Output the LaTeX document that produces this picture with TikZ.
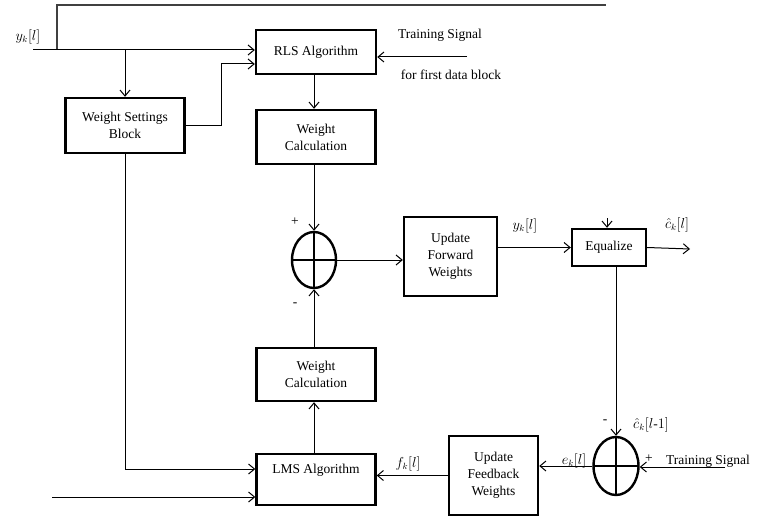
\documentclass[tikz,border=0pt]{standalone}
\usepackage{fontspec}
\setmainfont{Liberation Serif}
\usetikzlibrary{arrows.meta,shapes.geometric,calc}
\begin{document}
\begin{tikzpicture}[x=1pt,y=-1pt,
  blk/.style={draw,line width=2.4pt,inner sep=0pt,align=center,
    font=\fontsize{13.5}{17}\selectfont},
  sumnode/.style={draw,ellipse,line width=2.4pt,minimum width=44pt,
    minimum height=56pt,inner sep=0pt,
    path picture={\draw[line width=2.4pt]
      (path picture bounding box.north) -- (path picture bounding box.south)
      (path picture bounding box.west) -- (path picture bounding box.east);}},
  wire/.style={line width=1pt},
  arr/.style={wire,-{Straight Barb[length=6pt,width=10pt]}},
  topwire/.style={line width=1.8pt,black!75},
  lbl/.style={font=\fontsize{13.5}{16}\selectfont,inner sep=0pt}]
\useasboundingbox (0,0) rectangle (774,516);

% blocks
\node[blk,minimum width=120pt,minimum height=44pt] (rls) at (316,52) {RLS Algorithm};
\node[blk,minimum width=119pt,minimum height=54pt] (wc1) at (316,137) {Weight\\Calculation};
\node[blk,minimum width=119pt,minimum height=55pt] (wsb) at (125,125.5) {Weight Settings\\Block};
\node[blk,minimum width=93pt,minimum height=79pt] (ufw) at (450.5,256.5) {Update\\Forward\\Weights};
\node[blk,minimum width=74pt,minimum height=37pt] (eq) at (609,247.5) {Equalize};
\node[blk,minimum width=119pt,minimum height=53pt] (wc2) at (316,374.5) {Weight\\Calculation};
\node[blk,minimum width=119pt,minimum height=51pt] (lms) at (316,479.5) {};
\node[lbl] (lmst) at (316,470) {LMS Algorithm};
\node[blk,minimum width=89pt,minimum height=79pt] (ufb) at (493.5,475.5) {Update\\Feedback\\Weights};

% summing junctions
\node[sumnode] (s1) at (314,260) {};
\node[sumnode,minimum width=45pt,minimum height=58pt] (s2) at (616,466) {};

% free ends of the signal lines
\coordinate (in) at (33,50);
\coordinate (tl) at (57,50);
\coordinate (tr) at (606,5);
\coordinate (br) at (125,50);
\coordinate (ts1) at (467,57);
\coordinate (eqin) at (607,218);
\coordinate (out) at (690,249);
\coordinate (ts2) at (725,467);
\coordinate (in2) at (52,497);

% connectors (the centre column runs along the junction's axis)
\draw[topwire] (tl) |- (tr);
\draw[arr] (in) -- (rls.west |- in);
\draw[arr] (br) -- (wsb.north);
\draw[arr] (wsb.east) -- ++(36,0) |- ($(rls.west)+(0,12)$);
\draw[arr] (ts1) -- (rls.east |- ts1);
\draw[arr] (rls.south -| s1.north) -- (wc1.north -| s1.north);
\draw[arr] (wc1.south -| s1.north) -- (s1.north);
\draw[arr] (s1.east) -- (ufw.west |- s1.east);
\draw[arr] (ufw.east |- eq.west) -- (eq.west);
\draw[arr] (eqin) -- (eqin |- eq.north);
\draw[arr] (eq.east) -- (out);
\draw[arr] (eq.south -| s2.north) -- (s2.north);
\draw[arr] (ts2) -- (s2.east |- ts2);
\draw[arr] (s2.west) -- (ufb.east |- s2.west);
\draw[arr] (ufb.west) -- (lms.east |- ufb.west);
\draw[arr] (lms.north -| s1.south) -- (wc2.south -| s1.south);
\draw[arr] (wc2.north -| s1.south) -- (s1.south);
\draw[arr] (wsb.south) |- ($(lms.west)+(0,-10.5)$);
\draw[arr] (in2) -- (lms.west |- in2);

% signal labels
\node[lbl] (lyin) at (28,37) {$y_k[l]$};
\node[lbl] (lts1) at (440,35) {Training Signal};
\node[lbl] (lts1b) at (451,75) {for first data block};
\node[lbl] (lp1) at (295,222) {+};
\node[lbl] (lm1) at (295,305) {-};
\node[lbl] (lyk) at (525,226) {$y_k[l]$};
\node[lbl] (lck) at (677,225) {$\hat{c}_k[l]$};
\node[lbl] (lm2) at (605,422) {-};
\node[lbl] (lck1) at (651,425) {$\hat{c}_k[l$-$1]$};
\node[lbl] (lp2) at (649,459) {+};
\node[lbl] (lts2) at (708,461) {Training Signal};
\node[lbl] (lek) at (574,461) {$e_k[l]$};
\node[lbl] (lfk) at (408,464) {$f_k[l]$};
\end{tikzpicture}
\end{document}
